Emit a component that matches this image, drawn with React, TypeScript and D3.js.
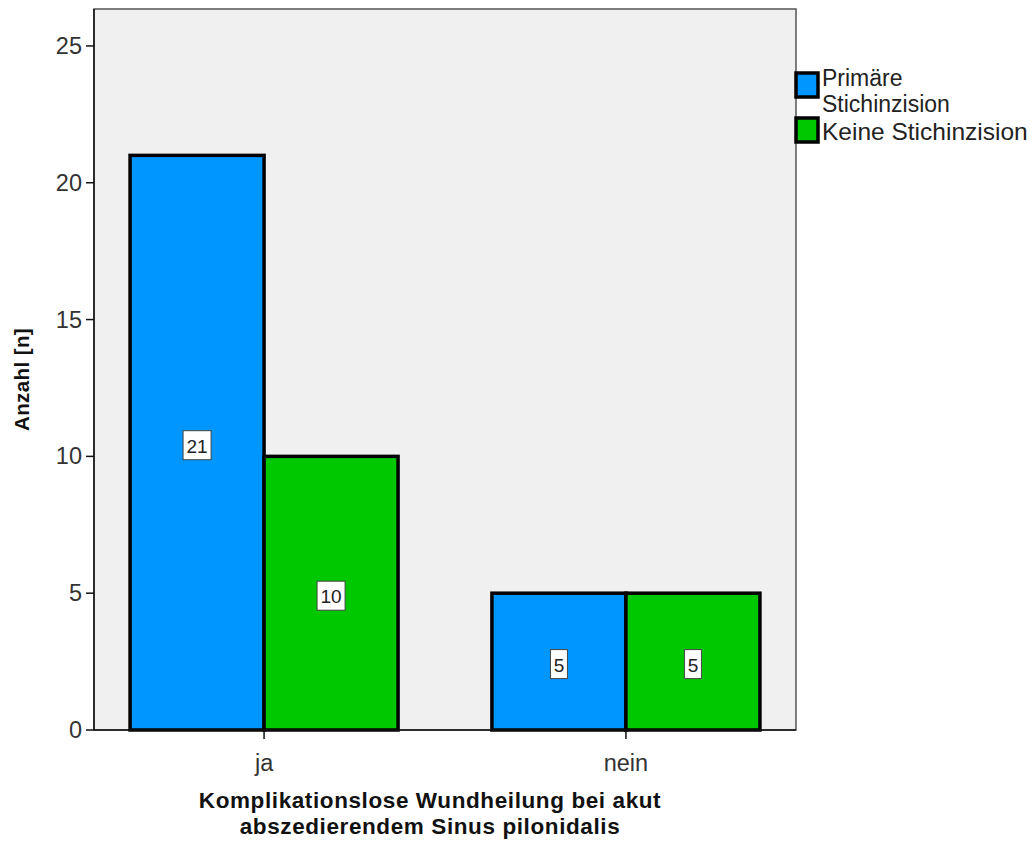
import React from "react";
import * as d3 from "d3";

const categories = ["ja", "nein"];
const seriesNames = ["Primäre Stichinzision", "Keine Stichinzision"];
const primaer = [21, 5];
const keine = [10, 5];
const yTicks = [0, 5, 10, 15, 20, 25];
const colors = ["#0096ff", "#00c800"];

const W = 1036;
const H = 844;
const plot = { left: 94, right: 796, top: 9, bottom: 730 };
const FONT = "'Liberation Sans', Arial, sans-serif";

export default function App() {
  const y = d3.scaleLinear().domain([0, 26.35]).range([plot.bottom, plot.top]);
  const x = d3
    .scalePoint<string>()
    .domain(categories)
    .range([plot.left, plot.right])
    .padding(0.47);
  const barW = 134;
  const series = [primaer, keine];

  return (
    <svg width={W} height={H} style={{ position: "absolute", left: 0, top: 0, background: "#fff" }}>
      <rect x={0} y={0} width={W} height={H} fill="#ffffff" />
      <rect
        x={plot.left}
        y={plot.top}
        width={plot.right - plot.left}
        height={plot.bottom - plot.top}
        fill="#f0f0f0"
        stroke="#555"
        strokeWidth={1.5}
      />
      {/* bars */}
      {categories.map((c, ci) =>
        series.map((s, si) => {
          const cx = x(c)!;
          const x0 = cx - barW + si * barW;
          return (
            <rect
              key={c + si}
              x={x0}
              y={y(s[ci])}
              width={barW}
              height={y(0) - y(s[ci])}
              fill={colors[si]}
              stroke="#000"
              strokeWidth={3.5}
            />
          );
        })
      )}
      {/* value labels */}
      {categories.map((c, ci) =>
        series.map((s, si) => {
          const cx = x(c)! - barW / 2 + si * barW;
          const v = s[ci];
          const label = String(v);
          const bw = label.length * 11 + 6;
          const cy = y(v / 2) + 3;
          return (
            <g key={"l" + c + si}>
              <rect
                x={cx - bw / 2}
                y={cy - 15}
                width={bw}
                height={29}
                fill="#fff"
                stroke="#444"
                strokeWidth={1}
              />
              <text
                x={cx}
                y={cy + 7}
                textAnchor="middle"
                fontFamily={FONT}
                fontSize={19}
                fill="#222"
              >
                {label}
              </text>
            </g>
          );
        })
      )}
      {/* y axis */}
      <line x1={plot.left} x2={plot.left} y1={plot.top} y2={plot.bottom} stroke="#111" strokeWidth={1.5} />
      {yTicks.map((t) => (
        <g key={t}>
          <line x1={plot.left - 8} x2={plot.left} y1={y(t)} y2={y(t)} stroke="#111" strokeWidth={1.5} />
          <text
            x={plot.left - 12}
            y={y(t) + 8}
            textAnchor="end"
            fontFamily={FONT}
            fontSize={23.5}
            fill="#333"
          >
            {t}
          </text>
        </g>
      ))}
      {/* x axis */}
      <line x1={plot.left} x2={plot.right} y1={plot.bottom} y2={plot.bottom} stroke="#111" strokeWidth={1.5} />
      {categories.map((c) => (
        <g key={c}>
          <line x1={x(c)!} x2={x(c)!} y1={plot.bottom} y2={plot.bottom + 9} stroke="#111" strokeWidth={1.5} />
          <text
            x={x(c)!}
            y={771}
            textAnchor="middle"
            fontFamily={FONT}
            fontSize={23.5}
            fill="#333"
          >
            {c}
          </text>
        </g>
      ))}
      {/* axis titles */}
      <text
        transform={`translate(29, ${(plot.top + plot.bottom) / 2 + 10}) rotate(-90)`}
        textAnchor="middle"
        fontFamily={FONT}
        fontWeight="bold"
        fontSize={20.5}
        fill="#111"
        letterSpacing={0.4}
      >
        Anzahl [n]
      </text>
      <text
        x={430}
        y={808}
        textAnchor="middle"
        fontFamily={FONT}
        fontWeight="bold"
        fontSize={22.5}
        fill="#111"
        letterSpacing={0.6}
      >
        Komplikationslose Wundheilung bei akut
      </text>
      <text
        x={430}
        y={834}
        textAnchor="middle"
        fontFamily={FONT}
        fontWeight="bold"
        fontSize={22.5}
        fill="#111"
        letterSpacing={0.6}
      >
        abszedierendem Sinus pilonidalis
      </text>
      {/* legend */}
      <rect x={796} y={73} width={22} height={24} fill={colors[0]} stroke="#000" strokeWidth={3.5} />
      <rect x={796} y={118} width={22} height={24} fill={colors[1]} stroke="#000" strokeWidth={3.5} />
      <text x={822} y={86} fontFamily={FONT} fontSize={23} fill="#222">
        Primäre
      </text>
      <text x={822} y={112} fontFamily={FONT} fontSize={23} fill="#222">
        Stichinzision
      </text>
      <text x={822} y={140} fontFamily={FONT} fontSize={24.5} fill="#222">
        {seriesNames[1]}
      </text>
    </svg>
  );
}
